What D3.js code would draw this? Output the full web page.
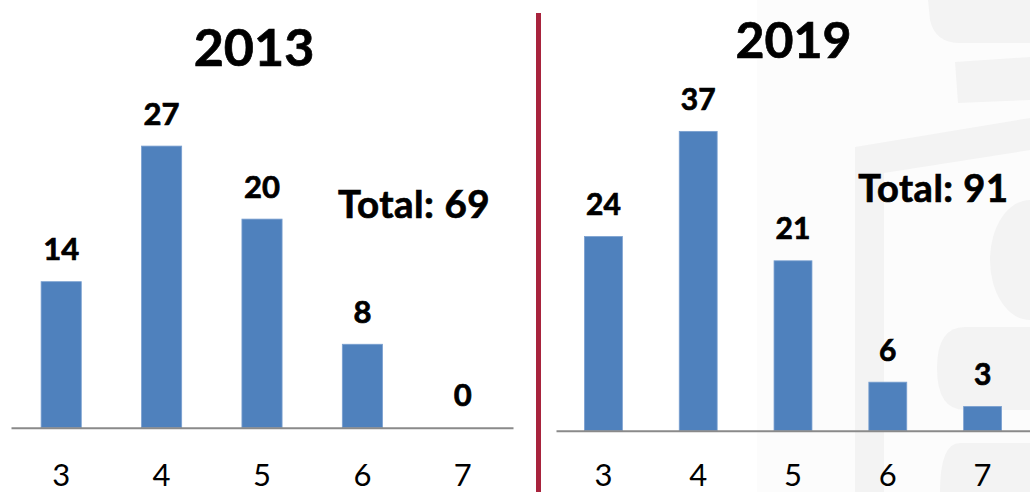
<!DOCTYPE html>
<html>
<head>
<meta charset="utf-8">
<script src="https://cdn.jsdelivr.net/npm/d3@7"></script>
<style>
  html, body { margin: 0; padding: 0; background: #ffffff; }
  svg { display: block; }
  text { font-family: Lato, "Open Sans", sans-serif; fill: #000; }
  .bold { font-weight: 700; stroke: #000; stroke-width: 0.7px; paint-order: stroke; }
</style>
</head>
<body>
<svg id="chart" width="1030" height="492"></svg>
<script>
// ---- data ----
const categories = ["3", "4", "5", "6", "7"];
const values2013 = [14, 27, 20, 8, 0];
const values2019 = [24, 37, 21, 6, 3];
const titles = ["2013", "2019"];
const totalLabels = ["Total: 69", "Total: 91"];

const svg = d3.select("#chart");
const W = 1030, H = 492;
const barColor = "#4f81bd";
const barEdge = "#7aa0d0";
const axisColor = "#8a8a8a";

// ---- faint background watermark (right side) ----
const wm = svg.append("g").attr("fill", "#f3f3f3");
wm.append("rect").attr("x", 757).attr("y", 0).attr("width", 273).attr("height", H).attr("fill", "#fcfcfc");
wm.append("path").attr("d", "M928,0 L1030,0 L1030,43 L960,43 Q935,43 930,20 Z");
wm.append("path").attr("d", "M955,62 L1030,57 L1030,100 L958,103 Z");
wm.append("path").attr("d", "M855,147 L1030,118 L1030,150 L884,173 L884,492 L855,492 Z");
wm.append("path").attr("d", "M1030,200 A40,60 0 0 0 1030,320 Z");
wm.append("path").attr("d", "M965,327 L1030,327 L1030,410 L965,410 Q937,410 937,368 Q937,327 965,327 Z");
wm.append("path").attr("d", "M960,443 L1030,443 L1030,492 L940,492 Q940,443 960,443 Z");

// ---- panel geometry ----
const panels = [
  { values: values2013, title: titles[0], total: totalLabels[0],
    xRange: [11, 513], baseY: 427.7, pxPerUnit: 10.43,
    titleX: 254, titleY: 65.7, titleSize: 52,
    totalX: 338, totalY: 218.3, totalSize: 38.5,
    valueSize: 31, tickSize: 31 },
  { values: values2019, title: titles[1], total: totalLabels[1],
    xRange: [556, 1030], baseY: 430.7, pxPerUnit: 8.09,
    titleX: 793.5, titleY: 58.3, titleSize: 50,
    totalX: 858.3, totalY: 201.5, totalSize: 38,
    valueSize: 30, tickSize: 31 }
];

panels.forEach(p => {
  const g = svg.append("g");
  const x = d3.scaleBand().domain(categories).range(p.xRange)
    .paddingInner(0.6).paddingOuter(0.3);
  const maxV = 40;
  const y = d3.scaleLinear().domain([0, maxV]).range([p.baseY, p.baseY - maxV * p.pxPerUnit]);

  // bars
  g.selectAll("rect.bar").data(p.values).join("rect")
    .attr("class", "bar")
    .attr("x", (d, i) => x(categories[i]))
    .attr("y", d => y(d))
    .attr("width", x.bandwidth())
    .attr("height", d => y(0) - y(d))
    .attr("fill", barColor)
    .attr("stroke", d => d > 0 ? barEdge : "none")
    .attr("stroke-width", 0.8);

  // axis
  const axis = d3.axisBottom(x).tickSize(0).tickPadding(0);
  const ax = g.append("g").attr("transform", `translate(0,${p.baseY})`).call(axis);
  ax.select(".domain").attr("stroke", axisColor).attr("stroke-width", 2);
  ax.selectAll(".tick text")
    .attr("y", 486 - p.baseY)
    .attr("dy", 0)
    .style("font-family", "Lato, sans-serif")
    .style("font-size", p.tickSize + "px")
    .attr("fill", "#000");

  // value labels
  g.selectAll("text.val").data(p.values).join("text")
    .attr("class", "val bold")
    .attr("x", (d, i) => x(categories[i]) + x.bandwidth() / 2)
    .attr("y", d => y(d) - 21.5)
    .attr("text-anchor", "middle")
    .style("font-size", p.valueSize + "px")
    .text(d => d);

  // title
  g.append("text").attr("class", "bold").attr("x", p.titleX).attr("y", p.titleY)
    .attr("text-anchor", "middle")
    .style("font-size", p.titleSize + "px")
    .text(p.title);

  // total
  g.append("text").attr("class", "bold").attr("x", p.totalX).attr("y", p.totalY)
    .style("font-size", p.totalSize + "px")
    .style("letter-spacing", "0.5px")
    .text(p.total);
});

// divider
svg.append("line")
  .attr("x1", 538.5).attr("x2", 538.5).attr("y1", 13).attr("y2", H)
  .attr("stroke", "#a8233d").attr("stroke-width", 5);
</script>
</body>
</html>
